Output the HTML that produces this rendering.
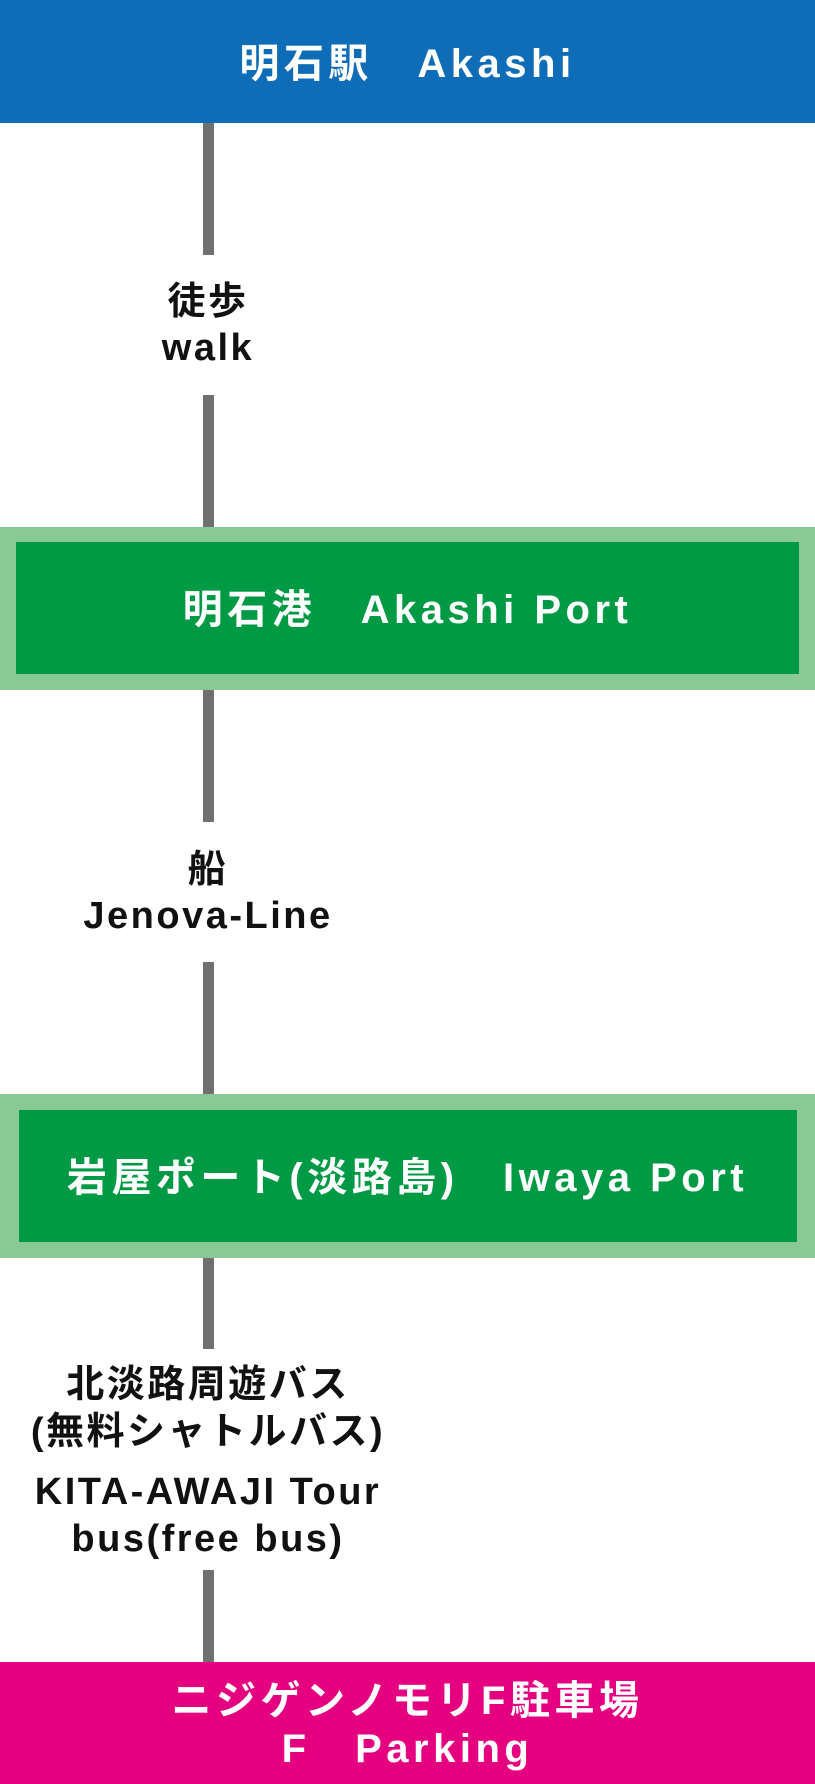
<!DOCTYPE html>
<html><head><meta charset="utf-8">
<style>
*{margin:0;padding:0;box-sizing:border-box}
body{width:815px;height:1784px;position:relative;background:#fff;font-family:"Liberation Sans","Noto Sans CJK JP",sans-serif;font-weight:bold;overflow:hidden}
.abs{position:absolute}
.line{position:absolute;left:203px;width:11px;background:#707070}
.t{position:absolute;left:0;width:100%;text-align:center;color:#fff;letter-spacing:4.5px;white-space:nowrap;font-size:40px;line-height:46px}
.lbl{position:absolute;text-align:center;color:#111;letter-spacing:2.5px;white-space:nowrap;font-size:38px;line-height:46px}
</style></head><body>
<div class="abs" style="left:0;top:0;width:815px;height:123px;background:#0f6db8"></div>
<div class="t" style="top:41px">明石駅　Akashi</div>

<div class="line" style="top:123px;height:132px"></div>
<div class="lbl" style="left:58px;width:300px;top:279px">徒歩<br>walk</div>
<div class="line" style="top:395px;height:132px"></div>

<div class="abs" style="left:0;top:527px;width:815px;height:163px;background:#8ac994"></div>
<div class="abs" style="left:16px;top:542px;width:783px;height:132px;background:#009a44"></div>
<div class="t" style="top:587px">明石港　Akashi Port</div>

<div class="line" style="top:690px;height:132px"></div>
<div class="lbl" style="left:8px;width:400px;top:847px">船<br>Jenova-Line</div>
<div class="line" style="top:962px;height:132px"></div>

<div class="abs" style="left:0;top:1094px;width:815px;height:164px;background:#8ac994"></div>
<div class="abs" style="left:19px;top:1110px;width:778px;height:132px;background:#009a44"></div>
<div class="t" style="top:1155px">岩屋ポート(淡路島)　Iwaya Port</div>

<div class="line" style="top:1258px;height:91px"></div>
<div class="lbl" style="left:0;width:416px;top:1362px;line-height:47px">北淡路周遊バス<br>(無料シャトルバス)</div>
<div class="lbl" style="left:0;width:416px;top:1469px;line-height:47px">KITA-AWAJI Tour<br>bus(free bus)</div>
<div class="line" style="top:1570px;height:92px"></div>

<div class="abs" style="left:0;top:1662px;width:815px;height:122px;background:#e4007f"></div>
<div class="t" style="top:1678px">ニジゲンノモリF駐車場</div>
<div class="t" style="top:1726px">F　Parking</div>
</body></html>
